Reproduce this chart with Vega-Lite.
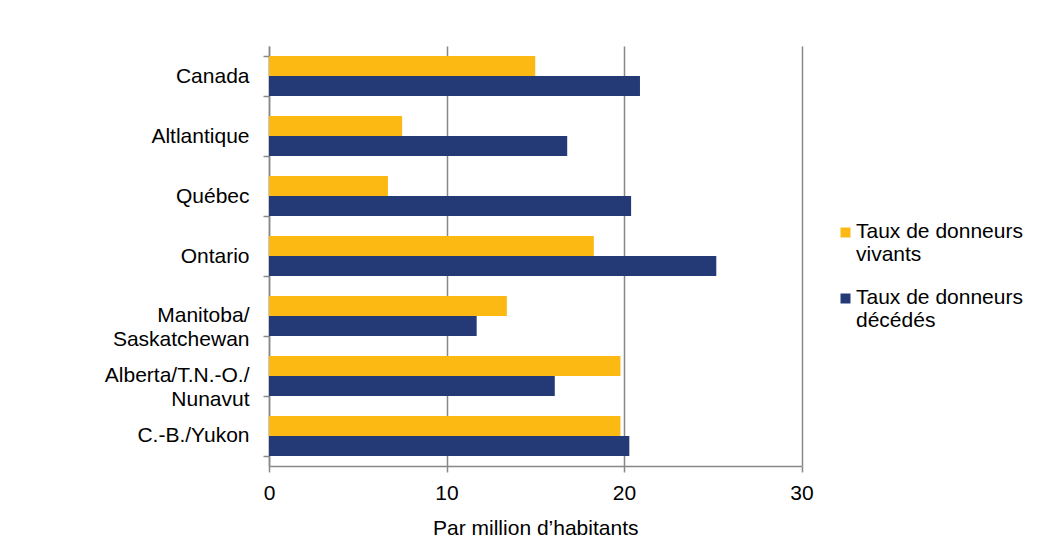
{
  "$schema": "https://vega.github.io/schema/vega-lite/v6.json",
  "width": 532.5,
  "height": 420,
  "autosize": {"type": "none"},
  "padding": {"left": 269, "top": 46, "right": 246.5, "bottom": 78},
  "background": "white",
  "config": {"view": {"stroke": null}, "font": "Liberation Sans"},
  "data": {
    "values": [
      {"region": "Canada", "type": "Taux de donneurs vivants", "value": 15.0},
      {"region": "Canada", "type": "Taux de donneurs décédés", "value": 20.9},
      {"region": "Altlantique", "type": "Taux de donneurs vivants", "value": 7.5},
      {"region": "Altlantique", "type": "Taux de donneurs décédés", "value": 16.8},
      {"region": "Québec", "type": "Taux de donneurs vivants", "value": 6.7},
      {"region": "Québec", "type": "Taux de donneurs décédés", "value": 20.4},
      {"region": "Ontario", "type": "Taux de donneurs vivants", "value": 18.3},
      {"region": "Ontario", "type": "Taux de donneurs décédés", "value": 25.2},
      {"region": "Manitoba/Saskatchewan", "type": "Taux de donneurs vivants", "value": 13.4},
      {"region": "Manitoba/Saskatchewan", "type": "Taux de donneurs décédés", "value": 11.7},
      {"region": "Alberta/T.N.-O./Nunavut", "type": "Taux de donneurs vivants", "value": 19.8},
      {"region": "Alberta/T.N.-O./Nunavut", "type": "Taux de donneurs décédés", "value": 16.1},
      {"region": "C.-B./Yukon", "type": "Taux de donneurs vivants", "value": 19.8},
      {"region": "C.-B./Yukon", "type": "Taux de donneurs décédés", "value": 20.3}
    ]
  },
  "mark": {"type": "bar"},
  "encoding": {
    "y": {
      "field": "region",
      "type": "nominal",
      "sort": ["Canada", "Altlantique", "Québec", "Ontario", "Manitoba/Saskatchewan", "Alberta/T.N.-O./Nunavut", "C.-B./Yukon"],
      "scale": {"paddingInner": 0.33333, "paddingOuter": 0.16667},
      "axis": {
        "title": null,
        "tickBand": "extent",
        "grid": false,
        "domainColor": "#888888",
        "domainWidth": 1.5,
        "tickColor": "#888888",
        "tickWidth": 1.5,
        "tickSize": 6,
        "labelPadding": 14,
        "labelFontSize": 21,
        "labelColor": "#000000",
        "labelLineHeight": 23.5,
        "labelAlign": "right",
        "labelBaseline": "middle",
        "labelLimit": 300,
        "labelExpr": "datum.value == 'Manitoba/Saskatchewan' ? ['Manitoba/', 'Saskatchewan'] : datum.value == 'Alberta/T.N.-O./Nunavut' ? ['Alberta/T.N.-O./', 'Nunavut'] : datum.value"
      }
    },
    "yOffset": {
      "field": "type",
      "sort": ["Taux de donneurs vivants", "Taux de donneurs décédés"],
      "scale": {"paddingInner": 0, "paddingOuter": 0}
    },
    "x": {
      "field": "value",
      "type": "quantitative",
      "scale": {"domain": [0, 30], "nice": false},
      "axis": {
        "title": "Par million d’habitants",
        "values": [0, 10, 20, 30],
        "grid": true,
        "gridColor": "#888888",
        "gridWidth": 1.5,
        "domainColor": "#888888",
        "domainWidth": 1.5,
        "tickColor": "#888888",
        "tickWidth": 1.5,
        "tickSize": 6,
        "labelFlush": false,
        "labelPadding": 10,
        "labelFontSize": 21,
        "labelColor": "#000000",
        "titleFontSize": 21,
        "titleFontWeight": "normal",
        "titleColor": "#000000",
        "titlePadding": 14
      }
    },
    "color": {
      "field": "type",
      "type": "nominal",
      "scale": {"domain": ["Taux de donneurs vivants", "Taux de donneurs décédés"], "range": ["#FDB913", "#243A76"]},
      "legend": {
        "title": null,
        "orient": "none",
        "legendX": 566,
        "legendY": 181,
        "padding": 0,
        "symbolType": "M-1,-2H1V0H-1Z",
        "symbolSize": 100,
        "symbolStrokeWidth": 0,
        "symbolOpacity": 1,
        "labelFontSize": 21,
        "labelLineHeight": 25.3,
        "labelBaseline": "alphabetic",
        "labelOffset": 0,
        "labelColor": "#000000",
        "labelLimit": 300,
        "rowPadding": 21,
        "labelExpr": "datum.value == 'Taux de donneurs vivants' ? ['Taux de donneurs', 'vivants'] : ['Taux de donneurs', 'décédés']"
      }
    }
  }
}
